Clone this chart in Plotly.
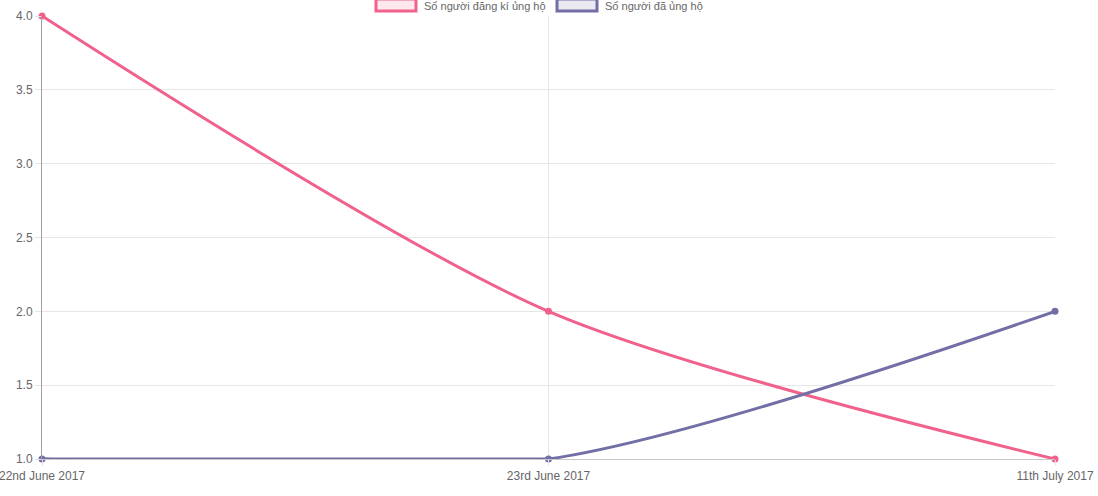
import plotly.graph_objects as go

dates = ["22nd June 2017", "23rd June 2017", "11th July 2017"]
registered = [4, 2, 1]
donated = [1, 1, 2]
series_names = ["Số người đăng kí ủng hộ", "Số người đã ủng hộ"]
y_ticks = [1.0, 1.5, 2.0, 2.5, 3.0, 3.5, 4.0]

pink = "rgb(240,98,140)"
purple = "rgb(114,110,166)"

fig = go.Figure()

# the curve of the second series dips under the axis between the first two
# points and gets clipped, so the flat start is drawn again as a plain line
fig.add_trace(
    go.Scatter(
        x=dates[:2],
        y=donated[:2],
        mode="lines",
        line=dict(color=purple, width=3),
        hoverinfo="skip",
        showlegend=False,
    )
)

for name, values, color in [
    (series_names[0], registered, pink),
    (series_names[1], donated, purple),
]:
    fig.add_trace(
        go.Scatter(
            x=dates,
            y=values,
            name=name,
            mode="lines+markers",
            line=dict(color=color, width=3, shape="spline", smoothing=0.8),
            marker=dict(color=color, size=7),
            cliponaxis=False,
            showlegend=False,
        )
    )

# legend drawn by hand at the very top of the page
legend_items = [
    (series_names[0], pink, "rgba(240,98,140,0.15)", 0.3297, 0.3751),
    (series_names[1], purple, "rgba(114,110,166,0.15)", 0.5084, 0.5538),
]
for name, line_color, fill_color, x0, tx in legend_items:
    fig.add_shape(
        type="rect",
        xref="paper",
        yref="paper",
        x0=x0,
        x1=x0 + 40 / 1013,
        y0=1.0113,
        y1=1.0384,
        line=dict(color=line_color, width=3),
        fillcolor=fill_color,
    )
    fig.add_annotation(
        text=name,
        xref="paper",
        yref="paper",
        x=tx,
        y=1.0226,
        xanchor="left",
        yanchor="middle",
        showarrow=False,
        font=dict(size=11, color="#666"),
    )

fig.update_layout(
    width=1098,
    height=496,
    margin=dict(l=42, r=43, t=16, b=37),
    plot_bgcolor="white",
    paper_bgcolor="white",
    font=dict(family="Liberation Sans, Arial, sans-serif", size=12, color="#666"),
)

fig.update_xaxes(
    type="category",
    range=[0, 2],
    automargin=False,
    showgrid=True,
    gridcolor="#e6e6e6",
    showline=True,
    linecolor="#c8c8c8",
    ticks="outside",
    ticklen=6,
    tickcolor="#e6e6e6",
    zeroline=False,
    tickfont=dict(size=12, color="#666"),
)
fig.update_yaxes(
    range=[1, 4],
    automargin=False,
    tickvals=y_ticks,
    ticktext=[f"{v:.1f}" for v in y_ticks],
    showgrid=True,
    gridcolor="#e6e6e6",
    showline=True,
    linecolor="#a0a0a0",
    ticks="outside",
    ticklen=6,
    tickcolor="#e6e6e6",
    zeroline=False,
    tickfont=dict(size=12, color="#666"),
)

# drop the page margin so the figure sits flush in the window
fig.write_html(
    "out.html",
    config={"displayModeBar": False},
    post_script="document.body.style.margin='0';document.body.style.overflow='hidden';",
)
